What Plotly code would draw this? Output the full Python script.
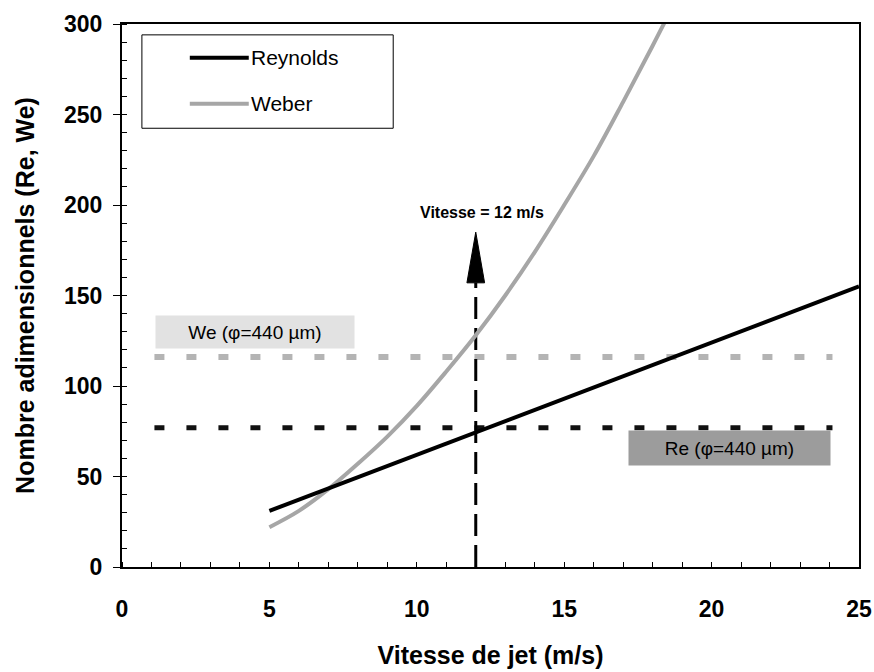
import plotly.graph_objects as go

# ---- data ----
v_re = [5, 10, 15, 20, 25]
reynolds = [31, 62, 93, 124, 155]

v_we = [5, 6, 7, 8, 9, 10, 11, 12, 13, 14, 15, 16, 17, 18, 19]
weber = [22, 31, 43, 57, 72, 89, 108, 128, 150, 174, 200, 227, 257, 288, 320]

thr_x = [1.1, 24.1]
we_threshold = 116
re_threshold = 77

arrow_x = 12
arrow_base = 157
arrow_tip = 185
arrow_halfwidth = 0.3

x_ticks = [0, 5, 10, 15, 20, 25]
y_ticks = [0, 50, 100, 150, 200, 250, 300]

FONT = "Liberation Sans, Arial, sans-serif"

fig = go.Figure()

# threshold lines
fig.add_trace(go.Scatter(x=thr_x, y=[we_threshold] * 2, mode="lines",
                         line=dict(color="#b4b4b4", width=6, dash="10px,22px"),
                         showlegend=False, hoverinfo="skip"))
fig.add_trace(go.Scatter(x=thr_x, y=[re_threshold] * 2, mode="lines",
                         line=dict(color="#111111", width=5, dash="10px,22px"),
                         showlegend=False, hoverinfo="skip"))

# vertical dashed arrow shaft
fig.add_trace(go.Scatter(x=[arrow_x, arrow_x], y=[0, arrow_base], mode="lines",
                         line=dict(color="black", width=3, dash="22px,9px"),
                         showlegend=False, hoverinfo="skip"))

# curves
fig.add_trace(go.Scatter(x=v_we, y=weber, mode="lines", name="Weber",
                         line=dict(color="#a6a6a6", width=4, shape="spline"),
                         showlegend=False))
fig.add_trace(go.Scatter(x=v_re, y=reynolds, mode="lines", name="Reynolds",
                         line=dict(color="black", width=4),
                         showlegend=False))

# arrow head (filled triangle)
fig.add_shape(type="path",
              path=f"M {arrow_x - arrow_halfwidth},{arrow_base} L {arrow_x},{arrow_tip} "
                   f"L {arrow_x + arrow_halfwidth},{arrow_base} Z",
              xref="x", yref="y", fillcolor="black", line=dict(color="black", width=1))

fig.add_annotation(x=12.2, y=196, text="<b>Vitesse = 12 m/s</b>", showarrow=False,
                   font=dict(family=FONT, size=16, color="black"), xanchor="center")

# labels for thresholds
fig.add_annotation(x=4.5, y=130, text="We (φ=440 µm)", showarrow=False,
                   font=dict(family=FONT, size=19, color="black"),
                   bgcolor="#e2e2e2", width=196, height=30)
fig.add_annotation(x=20.6, y=66, text="Re (φ=440 µm)", showarrow=False,
                   font=dict(family=FONT, size=19, color="black"),
                   bgcolor="#9c9c9c", width=199, height=32)

# manual legend
fig.add_shape(type="rect", xref="paper", yref="paper",
              x0=0.027, x1=0.368, y0=0.808, y1=0.980,
              line=dict(color="black", width=1), fillcolor="white")
fig.add_shape(type="line", xref="paper", yref="paper",
              x0=0.092, x1=0.172, y0=0.938, y1=0.938,
              line=dict(color="black", width=4))
fig.add_shape(type="line", xref="paper", yref="paper",
              x0=0.092, x1=0.172, y0=0.853, y1=0.853,
              line=dict(color="#a6a6a6", width=4))
fig.add_annotation(xref="paper", yref="paper", x=0.172, y=0.938, text="Reynolds",
                   showarrow=False, xanchor="left", yanchor="middle",
                   font=dict(family=FONT, size=21, color="black"))
fig.add_annotation(xref="paper", yref="paper", x=0.172, y=0.853, text="Weber",
                   showarrow=False, xanchor="left", yanchor="middle",
                   font=dict(family=FONT, size=21, color="black"))

fig.update_layout(
    width=874, height=672,
    margin=dict(l=122, r=15, t=24, b=105),
    paper_bgcolor="white", plot_bgcolor="white",
    font=dict(family=FONT, color="black"),
    xaxis=dict(range=[0, 25], tickvals=x_ticks, ticks="", showgrid=False, zeroline=False,
               showline=True, linecolor="black", linewidth=2, mirror=True,
               tickfont=dict(family=FONT, size=23, weight="bold"),
               ticklabelstandoff=20,
               minor=dict(dtick=1, ticks="inside", ticklen=5, tickcolor="black", showgrid=False),
               title=dict(text="Vitesse de jet (m/s)", standoff=26,
                          font=dict(family=FONT, size=25, weight="bold")),
               automargin=False),
    yaxis=dict(range=[0, 300], tickvals=y_ticks, ticks="outside", ticklen=7, tickcolor="black",
               showgrid=False, zeroline=False,
               showline=True, linecolor="black", linewidth=2, mirror=True,
               tickfont=dict(family=FONT, size=23, weight="bold"),
               ticklabelstandoff=6,
               minor=dict(dtick=10, ticks="inside", ticklen=5, tickcolor="black", showgrid=False),
               title=dict(text="Nombre adimensionnels (Re, We)", standoff=22,
                          font=dict(family=FONT, size=25, weight="bold")),
               automargin=False),
)

fig.write_html("out.html", config={"displayModeBar": False},
               post_script="document.body.style.margin='0';document.body.style.overflow='hidden';")
